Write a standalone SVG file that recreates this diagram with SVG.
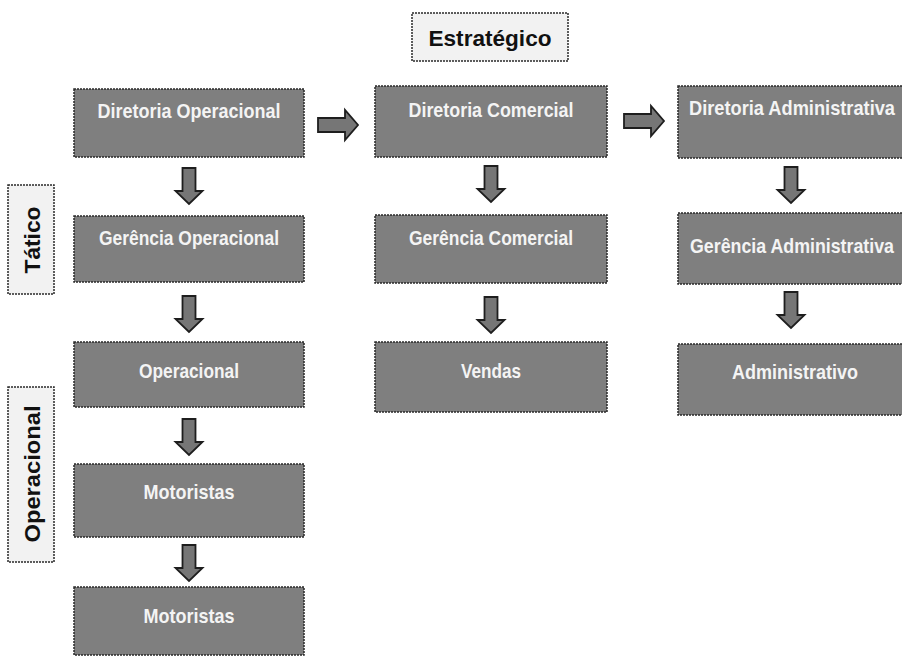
<svg xmlns="http://www.w3.org/2000/svg" width="902" height="657" viewBox="0 0 902 657">
<style>
.box{fill:#7f7f7f;stroke:#2a2a2a;stroke-width:1.5;stroke-dasharray:2 1}
.lbl{fill:#f2f2f2;stroke:#2a2a2a;stroke-width:1.5;stroke-dasharray:2 1}
.t{font-family:"Liberation Sans",Arial,sans-serif;font-weight:bold;font-size:21px;fill:#f4f4f4;text-anchor:middle}
.lt{font-family:"Liberation Sans",Arial,sans-serif;font-weight:bold;font-size:22px;fill:#111;text-anchor:middle}
.arr{fill:#767676;stroke:#1e1e1e;stroke-width:1.8;stroke-linejoin:miter}
</style>
<rect width="902" height="657" fill="#ffffff"/>

<g id="lbl-estrategico">
<rect class="lbl" x="412" y="13" width="156" height="48"/>
<text class="lt" x="490" y="46" font-size="21" textLength="123" lengthAdjust="spacingAndGlyphs">Estratégico</text>
</g>
<g id="lbl-tatico">
<rect class="lbl" x="8" y="185" width="46" height="109"/>
<text class="lt" transform="translate(40 240) rotate(-90)" textLength="67" lengthAdjust="spacingAndGlyphs">Tático</text>
</g>
<g id="lbl-operacional">
<rect class="lbl" x="8" y="387" width="46" height="175"/>
<text class="lt" transform="translate(40 474) rotate(-90)" textLength="137" lengthAdjust="spacingAndGlyphs">Operacional</text>
</g>

<g id="diretoria-operacional">
<rect class="box" x="74" y="89" width="230" height="68"/>
<text class="t" x="189" y="118" textLength="183" lengthAdjust="spacingAndGlyphs">Diretoria Operacional</text>
</g>
<g id="gerencia-operacional">
<rect class="box" x="74" y="216" width="230" height="66"/>
<text class="t" x="189" y="245" textLength="180" lengthAdjust="spacingAndGlyphs">Gerência Operacional</text>
</g>
<g id="operacional">
<rect class="box" x="74" y="342" width="230" height="65"/>
<text class="t" x="189" y="378" textLength="100" lengthAdjust="spacingAndGlyphs">Operacional</text>
</g>
<g id="motoristas-1">
<rect class="box" x="74" y="464" width="230" height="73"/>
<text class="t" x="189" y="499" textLength="91" lengthAdjust="spacingAndGlyphs">Motoristas</text>
</g>
<g id="motoristas-2">
<rect class="box" x="74" y="587" width="230" height="68"/>
<text class="t" x="189" y="623" textLength="91" lengthAdjust="spacingAndGlyphs">Motoristas</text>
</g>

<g id="diretoria-comercial">
<rect class="box" x="375" y="86" width="232" height="71"/>
<text class="t" x="491" y="117" textLength="165" lengthAdjust="spacingAndGlyphs">Diretoria Comercial</text>
</g>
<g id="gerencia-comercial">
<rect class="box" x="375" y="215" width="232" height="68"/>
<text class="t" x="491" y="245" textLength="164" lengthAdjust="spacingAndGlyphs">Gerência Comercial</text>
</g>
<g id="vendas">
<rect class="box" x="375" y="342" width="232" height="70"/>
<text class="t" x="491" y="378" textLength="60" lengthAdjust="spacingAndGlyphs">Vendas</text>
</g>

<g id="diretoria-administrativa">
<rect class="box" x="678" y="86" width="232" height="72"/>
<text class="t" x="792" y="115" font-size="19.5" textLength="206" lengthAdjust="spacingAndGlyphs">Diretoria Administrativa</text>
</g>
<g id="gerencia-administrativa">
<rect class="box" x="678" y="213" width="232" height="71"/>
<text class="t" x="792" y="253" font-size="19.5" textLength="204" lengthAdjust="spacingAndGlyphs">Gerência Administrativa</text>
</g>
<g id="administrativo">
<rect class="box" x="678" y="344" width="232" height="71"/>
<text class="t" x="795" y="379" textLength="126" lengthAdjust="spacingAndGlyphs">Administrativo</text>
</g>

<g id="connectors">
<defs>
<path id="down" d="M-6.5,0 h13 v23 h7 l-13.5,13 l-13.5,-13 h7 z"/>
<path id="right" d="M0,-7 h27 v-8 l13,15 l-13,15 v-8 h-27 z"/>
</defs>
<use href="#down" class="arr" x="189" y="168"/>
<use href="#down" class="arr" x="189" y="296"/>
<use href="#down" class="arr" x="189" y="419"/>
<use href="#down" class="arr" x="189" y="545"/>
<use href="#down" class="arr" x="491" y="166"/>
<use href="#down" class="arr" x="491" y="297"/>
<use href="#down" class="arr" x="791" y="167"/>
<use href="#down" class="arr" x="791" y="292"/>
<use href="#right" class="arr" x="318" y="125"/>
<use href="#right" class="arr" x="624" y="121"/>
</g>
</svg>
